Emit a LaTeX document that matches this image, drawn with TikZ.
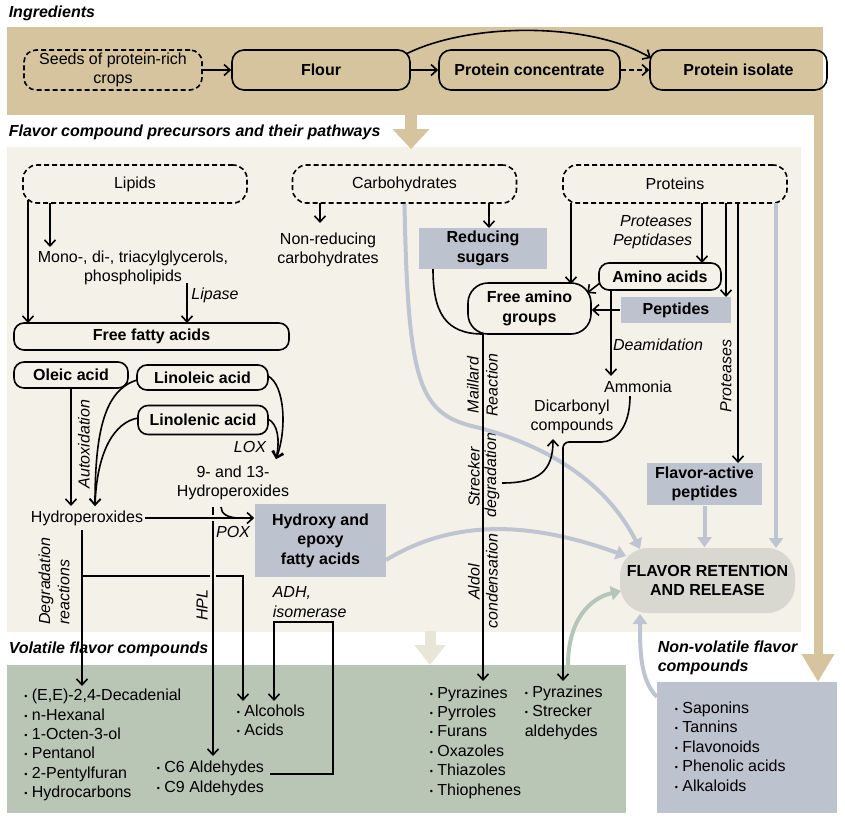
\documentclass[tikz,border=0pt]{standalone}
\usepackage{fontspec}
\setmainfont{Liberation Sans}
\usetikzlibrary{arrows.meta}
\definecolor{ingred}{HTML}{D5C49E}
\definecolor{pathbg}{HTML}{F4F2E8}
\definecolor{volbg}{HTML}{B9C6B5}
\definecolor{bluebox}{HTML}{BDC2CF}
\definecolor{grayarrow}{HTML}{BEC4D2}
\definecolor{frbox}{HTML}{D8D8D0}
\definecolor{greenarrow}{HTML}{B5C5B9}
\definecolor{palearrow}{HTML}{E7E6D7}
\newcommand\basesize{\fontsize{16}{19.4}\selectfont}
\newcommand\bl{\raisebox{1pt}{\fontsize{9}{9}\selectfont\textbullet}\ }

\begin{document}
\begin{tikzpicture}[x=1pt,y=-1pt,line width=1.6pt,
    >={Straight Barb[length=6pt,width=11pt]},
    every node/.style={font=\basesize, inner sep=1pt},
    panel/.style={inner sep=0pt, outer sep=0pt},
    title/.style={font=\basesize\bfseries\itshape, anchor=west, inner sep=0pt},
    ingbox/.style={draw, rounded corners=12pt, minimum height=40pt, align=center},
    dashline/.style={dash pattern=on 5pt off 3pt},
    srcbox/.style={draw, dashline, rounded corners=14pt, minimum width=224pt, minimum height=38pt},
    fatbox/.style={draw, rounded corners=10pt, font=\basesize\bfseries, align=center},
    greybox/.style={fill=bluebox, font=\basesize\bfseries, align=center},
    lab/.style={font=\basesize\itshape},
    sidelab/.style={font=\basesize\itshape, rotate=90},
    itemlist/.style={align=left, anchor=west, inner sep=0pt},
    grayflow/.style={draw=grayarrow, line width=4pt, -{Triangle[length=10pt,width=14pt]}}
  ]
  \useasboundingbox (0,0) rectangle (845,817);

  % panels
  \node[panel, fill=ingred, minimum width=816pt, minimum height=88pt] (ingr) at (415,71) {};
  \node[panel, fill=pathbg, minimum width=794pt, minimum height=485pt] (pathways) at (404,389.5) {};
  \node[panel, fill=volbg, minimum width=619pt, minimum height=148pt] (vol) at (316.5,739) {};
  \node[panel, fill=bluebox, minimum width=180pt, minimum height=131pt] (nonvol) at (747,747.5) {};

  \coordinate (ingrout) at (411,114);
  \coordinate (pathin) at (411,149);
  \coordinate (ingrright) at (818,114);
  \coordinate (pathout) at (430,631);
  \draw[ingred, line width=12pt, -{Triangle[length=20pt,width=36pt]}] (ingrout) -- (pathin);
  \draw[ingred, line width=9pt, -{Triangle[length=28pt,width=31pt]}] (ingrright) -- (ingrright |- nonvol.north);
  \draw[palearrow, line width=11pt, -{Triangle[length=20pt,width=30pt]}] (pathout) -- (pathout |- vol.north);

  % titles
  \node[title] (ingtitle) at (8,13) {Ingredients};
  \node[title] (pathtitle) at (8,132) {Flavor compound precursors and their pathways};
  \node[title] (voltitle) at (8,649) {Volatile flavor compounds};
  \node[title, align=left] (nonvoltitle) at (657,658) {Non-volatile flavor\\compounds};

  % ingredients
  \node[ingbox, dashline, minimum width=178pt] (seeds) at (113,70) {Seeds of protein-rich\\crops};
  \node[ingbox, font=\basesize\bfseries, minimum width=178pt] (flour) at (321,70) {Flour};
  \node[ingbox, font=\basesize\bfseries, minimum width=181pt] (conc) at (529.5,70) {Protein concentrate};
  \node[ingbox, font=\basesize\bfseries, minimum width=177pt] (isolate) at (738.5,70) {Protein isolate};

  \coordinate (flourtop) at (406,54);
  \coordinate (isolatetop) at (651,58);

  \draw[->] (seeds) -- (flour);
  \draw[->] (flour) -- (conc);
  \draw[->, dashline] (conc) -- (isolate);
  \draw[->] (flourtop) .. controls (470,22) and (590,22) .. (isolatetop);

  % precursors
  \node[srcbox] (lipids) at (135,184) {Lipids};
  \node[srcbox] (carbs) at (404.5,184) {Carbohydrates};
  \node[srcbox] (proteins) at (675,184) {Proteins};

  \node[align=center] (mono) at (133,268) {Mono-, di-, triacylglycerols,\\phospholipids};
  \node[align=center] (nonred) at (328,250) {Non-reducing\\carbohydrates};
  \node[fatbox, minimum width=275pt, minimum height=27pt] (ffa) at (151.5,336.5) {Free fatty acids};
  \node[fatbox, minimum width=114pt, minimum height=26pt] (oleic) at (71,375) {Oleic acid};
  \node[fatbox, minimum width=131pt, minimum height=25pt] (linoleic) at (202.5,377.5) {Linoleic acid};
  \node[fatbox, minimum width=130pt, minimum height=29pt] (linolenic) at (203,420) {Linolenic acid};
  \node (hydro) at (87,518) {Hydroperoxides};
  \node[align=center] (hydronine) at (233,483) {9- and 13-\\Hydroperoxides};
  \node[greybox, minimum width=131pt, minimum height=73pt] (hydroxy) at (320.5,540.5) {Hydroxy and\\epoxy\\fatty acids};
  \node[lab, align=left, anchor=west] (adh) at (271,602) {ADH,\\isomerase};

  \node[greybox, minimum width=128pt, minimum height=41pt] (reducing) at (483,248.5) {Reducing\\sugars};
  \node[fatbox, rounded corners=20pt, minimum width=123pt, minimum height=51pt] (fag) at (529.5,308.5) {Free amino\\groups};
  \node[fatbox, minimum width=122pt, minimum height=27pt] (amino) at (660,276.5) {Amino acids};
  \node[greybox, minimum width=110pt, minimum height=26pt] (peptides) at (676,310) {Peptides};
  \node (ammonia) at (638,387) {Ammonia};
  \node[align=center] (dicarb) at (572,417) {Dicarbonyl\\compounds};
  \node[greybox, minimum width=115pt, minimum height=42pt] (flavpep) at (704.5,484) {Flavor-active\\peptides};
  \node[fill=frbox, rounded corners=28pt, minimum width=175pt, minimum height=65pt,
        font=\basesize\bfseries, align=center] (fr) at (707.5,580.5) {FLAVOR RETENTION\\AND RELEASE};

  % volatile and non-volatile compounds
  \node[itemlist] (lipidlist) at (23.5,745) {\bl (E,E)-2,4-Decadenial\\\bl n-Hexanal\\\bl 1-Octen-3-ol\\\bl Pentanol\\\bl 2-Pentylfuran\\\bl Hydrocarbons};
  \node[itemlist] (alcohols) at (236,720.5) {\bl Alcohols\\\bl Acids};
  \node[itemlist] (aldehydes) at (156,778.5) {\bl C6 Aldehydes\\\bl C9 Aldehydes};
  \node[itemlist] (maillardlist) at (429,742.5) {\bl Pyrazines\\\bl Pyrroles\\\bl Furans\\\bl Oxazoles\\\bl Thiazoles\\\bl Thiophenes};
  \node[itemlist] (streckerlist) at (524,712.5) {\bl Pyrazines\\\bl Strecker\\aldehydes};
  \node[itemlist] (nonvollist) at (674,746.5) {\bl Saponins\\\bl Tannins\\\bl Flavonoids\\\bl Phenolic acids\\\bl Alkaloids};

  % pathway labels
  \node[lab] (lipaselab) at (215,295) {Lipase};
  \node[sidelab] (autoxlab) at (84,444) {Autoxidation};
  \node[lab] (loxlab) at (250,447) {LOX};
  \node[lab] (poxlab) at (233,532) {POX};
  \node[sidelab] (hpllab) at (202,605) {HPL};
  \node[sidelab, align=left] (degrlab) at (54,581) {Degradation\\reactions};
  \node[lab, align=right, anchor=east] (protlab) at (694,232) {Proteases\\Peptidases};
  \node[lab] (deamlab) at (658,345) {Deamidation};
  \node[sidelab] (proteaselab) at (726,376) {Proteases};
  \node[sidelab] (maillardlab) at (473,385) {Maillard};
  \node[sidelab] (reactionlab) at (492,385) {Reaction};
  \node[sidelab] (streckerlab) at (474,477) {Strecker};
  \node[sidelab] (degradlab) at (492,475) {degradation};
  \node[sidelab] (aldollab) at (474,582) {Aldol};
  \node[sidelab] (condlab) at (492,581) {condensation};

  % connector ends
  \coordinate (lipmono) at (50,203);
  \coordinate (monoN) at (50,247);
  \coordinate (lipffa) at (28,200);
  \coordinate (ffaN) at (28,323);
  \coordinate (monoS) at (187,283);
  \coordinate (ffaNlip) at (187,323);
  \coordinate (hydroNox) at (71,506);
  \coordinate (hydroN) at (95,506);
  \coordinate (linoleicW) at (137,380);
  \coordinate (linolenicW) at (138,418);
  \coordinate (linoleicE) at (268,376);
  \coordinate (linolenicE) at (268,419);
  \coordinate (loxend) at (276,459);
  \coordinate (hydronineS) at (221,507);
  \coordinate (poxjoin) at (240,518);
  \coordinate (hplN) at (213,507);
  \coordinate (hplS) at (213,756);
  \coordinate (hydroS) at (82,530);
  \coordinate (decN) at (82,686);
  \coordinate (branch) at (82,576);
  \coordinate (alcN) at (243,701);
  \coordinate (aldE) at (270,774);
  \coordinate (adhR) at (333,774);
  \coordinate (adhTR) at (333,622);
  \coordinate (adhTL) at (274,622);
  \coordinate (alcNadh) at (274,701);
  \coordinate (gapA) at (213,571);
  \coordinate (gapB) at (213,581);
  \coordinate (gapC) at (208,518);
  \coordinate (gapD) at (218,518);

  \coordinate (carbsnr) at (320,203);
  \coordinate (nonredN) at (320,223);
  \coordinate (carbsrs) at (489,203);
  \coordinate (reducingN) at (489,228);
  \coordinate (reducingSW) at (433,269);
  \coordinate (fagSW) at (483,334);
  \coordinate (maillardS) at (483,681);
  \coordinate (streckerA) at (502,483);
  \coordinate (dicarbS) at (553,439);
  \coordinate (ammoniaS) at (630,396);
  \coordinate (ammoniaJ) at (563,442);
  \coordinate (streckerN) at (563,681);

  \coordinate (protfag) at (571,203);
  \coordinate (fagN) at (571,284);
  \coordinate (protaa) at (702,203);
  \coordinate (aminoN) at (702,263);
  \coordinate (protpep) at (726,203);
  \coordinate (peptidesN) at (726,297);
  \coordinate (protfp) at (738,203);
  \coordinate (flavpepN) at (738,463);
  \coordinate (protfr) at (776,203);
  \coordinate (frNprot) at (776,548);
  \coordinate (aminoW) at (600,283);
  \coordinate (fagNE) at (587,293);
  \coordinate (aminoS) at (611,290);
  \coordinate (ammoniaN) at (611,376);

  \coordinate (frNcarb) at (640,549);
  \coordinate (hydroxyE) at (386,560);
  \coordinate (frWhyd) at (626,556);
  \coordinate (volN) at (568,665);
  \coordinate (frWvol) at (621,591);
  \coordinate (nonvolW) at (657,697);
  \coordinate (frS) at (640,614);

  % flows into flavor retention
  \draw[grayflow] (carbs.south) .. controls (408,390) and (420,415) .. (480,428)
    .. controls (560,450) and (610,490) .. (frNcarb);
  \draw[grayflow] (hydroxyE) .. controls (460,515) and (540,525) .. (frWhyd);
  \draw[grayflow] (protfr) -- (frNprot);
  \draw[grayflow] (flavpep) -- (flavpep.south |- fr.north);
  \draw[grayflow, draw=greenarrow] (volN) .. controls (568,620) and (590,598) .. (frWvol);
  \draw[grayflow] (nonvolW) .. controls (640,680) and (640,650) .. (frS);

  % lipids
  \draw[->] (lipmono) -- (monoN);
  \draw[->] (lipffa) -- (ffaN);
  \draw[->] (monoS) -- (ffaNlip);
  \draw[->] (oleic) -- (hydroNox);
  \draw[->] (linoleicW) .. controls (105,390) and (95,430) .. (hydroN);
  \draw[->] (linolenicW) .. controls (115,422) and (97,450) .. (hydroN);
  \draw[->] (linoleicE) .. controls (285,385) and (287,430) .. (loxend);
  \draw[->] (linolenicE) .. controls (278,424) and (280,440) .. (loxend);
  \draw[->] (hydroS) -- (decN);
  \draw[->] (branch) -| (alcN);
  \draw[pathbg, line width=6pt] (gapA) -- (gapB);
  \draw[->] (hplN) -- (hplS);
  \draw[pathbg, line width=6pt] (gapC) -- (gapD);
  \draw[->] (hydro) -- (hydro.east -| hydroxy.west);
  \draw (hydronineS) .. controls (221,514) and (228,518) .. (poxjoin);
  \draw[->] (aldE) -- (adhR) -- (adhTR) -- (adhTL) -- (alcNadh);

  % carbohydrates
  \draw[->] (carbsnr) -- (nonredN);
  \draw[->] (carbsrs) -- (reducingN);
  \draw (reducingSW) .. controls (433,312) and (445,334) .. (fagSW);
  \draw[->] (fagSW) -- (maillardS);
  \draw[->] (streckerA) .. controls (540,483) and (553,470) .. (dicarbS);
  \draw[->, rounded corners=6pt] (ammoniaS) .. controls (630,428) and (615,442) .. (595,442)
    -- (ammoniaJ) -- (streckerN);

  % proteins
  \draw[->] (protfag) -- (fagN);
  \draw[->] (protaa) -- (aminoN);
  \draw[->] (protpep) -- (peptidesN);
  \draw[->] (protfp) -- (flavpepN);
  \draw[->] (aminoW) -- (fagNE);
  \draw[->] (peptides.west) -- (peptides.west -| fag.east);
  \draw[->] (aminoS) -- (ammoniaN);
\end{tikzpicture}
\end{document}
